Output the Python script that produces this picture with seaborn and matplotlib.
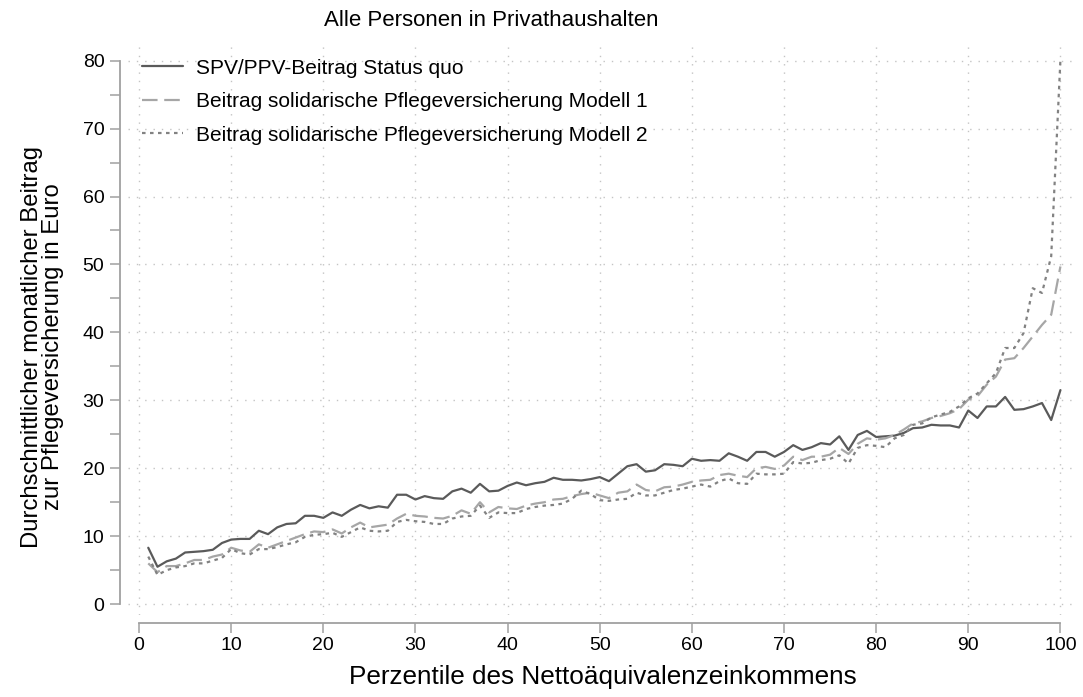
import numpy as np
import pandas as pd
import seaborn as sns
import matplotlib.pyplot as plt
from matplotlib.ticker import MultipleLocator

perzentile = list(range(1, 101))

status_quo = [
    8.3, 5.5, 6.3, 6.7, 7.6, 7.7, 7.8, 8.0, 9.0, 9.5,
    9.6, 9.6, 10.8, 10.3, 11.3, 11.8, 11.9, 13.0, 13.0, 12.7,
    13.5, 13.0, 13.9, 14.6, 14.1, 14.4, 14.2, 16.1, 16.1, 15.4,
    15.9, 15.6, 15.5, 16.6, 17.0, 16.4, 17.7, 16.6, 16.7, 17.4,
    17.9, 17.5, 17.8, 18.0, 18.6, 18.3, 18.3, 18.2, 18.4, 18.7,
    18.1, 19.2, 20.3, 20.6, 19.5, 19.7, 20.6, 20.5, 20.3, 21.4,
    21.1, 21.2, 21.1, 22.2, 21.7, 21.1, 22.4, 22.4, 21.7, 22.4,
    23.4, 22.7, 23.1, 23.7, 23.5, 24.7, 22.7, 24.9, 25.5, 24.6,
    24.7, 24.8, 25.2, 25.9, 26.0, 26.4, 26.3, 26.3, 26.0, 28.5,
    27.4, 29.1, 29.1, 30.5, 28.6, 28.7, 29.1, 29.6, 27.1, 31.5,
]

modell_1 = [
    6.0, 4.7, 5.6, 5.6, 6.0, 6.5, 6.5, 7.0, 7.3, 8.3,
    7.9, 7.7, 8.8, 8.3, 8.8, 9.3, 9.8, 10.3, 10.7, 10.6,
    11.0, 10.4, 11.3, 12.0, 11.3, 11.5, 11.7, 12.6, 13.3, 13.0,
    12.9, 12.7, 12.6, 13.0, 13.8, 13.3, 15.0, 13.5, 14.3, 14.1,
    14.0, 14.5, 14.8, 15.0, 15.4, 15.5, 15.9, 16.2, 16.4, 16.0,
    15.6, 16.4, 16.6, 17.6, 16.8, 16.6, 17.2, 17.3, 17.6, 18.0,
    18.2, 18.3, 19.0, 19.2, 18.9, 18.7, 20.0, 20.2, 19.9, 20.4,
    21.7, 21.2, 21.7, 21.7, 22.0, 23.0, 22.1, 23.6, 24.4, 24.2,
    24.4, 24.9, 25.7, 26.6, 26.9, 27.4, 27.7, 28.1, 28.7, 30.1,
    30.6, 32.3, 33.5, 36.0, 36.2, 37.7, 39.4, 41.1, 42.6, 49.7,
]

modell_2 = [
    7.0, 4.3, 5.0, 5.4, 5.6, 6.0, 6.0, 6.4, 6.8, 8.1,
    7.5, 7.3, 8.1, 8.1, 8.4, 8.8, 9.1, 9.9, 10.2, 10.3,
    10.5, 9.9, 10.6, 11.3, 10.8, 10.7, 10.8, 12.1, 12.4, 12.2,
    12.1, 11.8, 11.8, 12.6, 12.9, 13.0, 14.5, 12.7, 13.5, 13.4,
    13.4, 14.0, 14.3, 14.5, 14.6, 14.8, 15.5, 16.7, 16.2, 15.3,
    15.2, 15.4, 15.5, 16.4, 16.0, 16.0, 16.4, 16.8, 17.0, 17.3,
    17.6, 17.3, 18.1, 18.5, 17.8, 17.7, 19.2, 19.1, 19.1, 19.2,
    20.9, 20.7, 20.8, 21.2, 21.4, 21.9, 20.7, 23.0, 23.4, 23.3,
    23.1, 24.4, 24.9, 26.4, 26.6, 27.5, 27.9, 28.3, 29.1, 30.3,
    31.0, 32.5, 34.0, 37.7, 37.7, 39.9, 46.5, 45.8, 51.2, 80.1,
]

df = pd.DataFrame({'p': perzentile, 'sq': status_quo, 'm1': modell_1, 'm2': modell_2})

sns.set_style('white')
plt.rcParams['font.family'] = ['Liberation Sans', 'DejaVu Sans']
plt.rcParams['text.color'] = 'black'
plt.rcParams['axes.labelcolor'] = 'black'

fig = plt.figure(figsize=(10.83, 6.97), dpi=100)
ax = fig.add_axes([128 / 1083, 1 - 615 / 697, (1077 - 128) / 1083, (615 - 45) / 697])

sns.lineplot(data=df, x='p', y='sq', ax=ax, color='#5a5a5a', lw=1.6,
             label='SPV/PPV-Beitrag Status quo')
sns.lineplot(data=df, x='p', y='m1', ax=ax, color='#a6a6a6', lw=1.6,
             linestyle=(0, (7, 3)),
             label='Beitrag solidarische Pflegeversicherung Modell 1')
sns.lineplot(data=df, x='p', y='m2', ax=ax, color='#828282', lw=1.6,
             linestyle=(0, (1.6, 2)),
             label='Beitrag solidarische Pflegeversicherung Modell 2')

ax.set_xlim(-1.2, 101.8)
ax.set_ylim(-1.6, 82.3)
ax.set_xticks(range(0, 101, 10))
ax.set_yticks(range(0, 81, 10))
ax.yaxis.set_minor_locator(MultipleLocator(5))
ax.grid(True, which='major', color='#c4c4c4', linestyle=(0, (1, 5)), lw=1)

for s in ['top', 'right']:
    ax.spines[s].set_visible(False)
ax.spines['left'].set_position(('outward', 6))
ax.spines['bottom'].set_position(('outward', 6))
ax.spines['left'].set_bounds(0, 80)
ax.spines['bottom'].set_bounds(0, 100)
for s in ['left', 'bottom']:
    ax.spines[s].set_color('#a0a0a0')
    ax.spines[s].set_linewidth(1.3)

ax.tick_params(axis='both', which='both', length=7, width=1.1, color='#a0a0a0',
               labelsize=14, labelcolor='black', left=True, bottom=True)
ax.tick_params(axis='x', pad=3)
ax.tick_params(axis='y', pad=4)

ax.set_xlabel('Perzentile des Nettoäquivalenzeinkommens', fontsize=18.8, labelpad=8)
ax.set_ylabel('Durchschnittlicher monatlicher Beitrag\nzur Pflegeversicherung in Euro',
              fontsize=17.2, linespacing=0.95)
ax.yaxis.set_label_coords(-0.067, 0.47)

fig.text(491 / 1083, 1 - 20 / 697, 'Alle Personen in Privathaushalten',
         ha='center', va='center', fontsize=16)

ax.legend(loc='upper left', bbox_to_anchor=(0.0, 1.0), frameon=False, fontsize=15,
          handlelength=2.0, handletextpad=0.62, labelspacing=0.7, borderaxespad=0.25)

fig.savefig('out.png', dpi=100)
